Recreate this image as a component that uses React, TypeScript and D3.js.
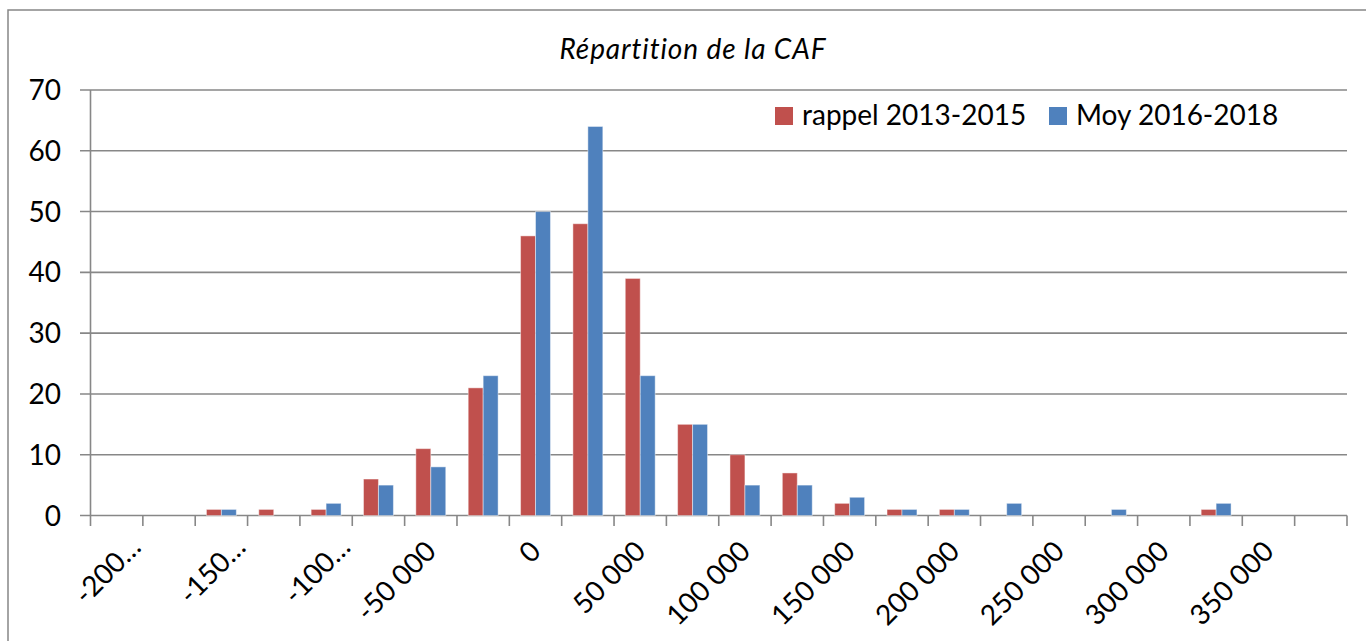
import React from "react";
import * as d3 from "d3";

const categories: number[] = [
  -200000, -175000, -150000, -125000, -100000, -75000, -50000, -25000,
  0, 25000, 50000, 75000, 100000, 125000, 150000, 175000,
  200000, 225000, 250000, 275000, 300000, 325000, 350000, 375000,
];
const rappel: number[] = [0, 0, 1, 1, 1, 6, 11, 21, 46, 48, 39, 15, 10, 7, 2, 1, 1, 0, 0, 0, 0, 1, 0, 0];
const moy: number[] = [0, 0, 1, 0, 2, 5, 8, 23, 50, 64, 23, 15, 5, 5, 3, 1, 1, 2, 0, 1, 0, 2, 0, 0];
const xTickLabels: string[] = [
  "-200…", "", "-150…", "", "-100…", "", "-50 000", "",
  "0", "", "50 000", "", "100 000", "", "150 000", "",
  "200 000", "", "250 000", "", "300 000", "", "350 000", "",
];
const yTicks: number[] = [0, 10, 20, 30, 40, 50, 60, 70];
const seriesNames: string[] = ["rappel 2013-2015", "Moy 2016-2018"];
const seriesColors: string[] = ["#C0504D", "#4F81BD"];
const title = "Répartition de la CAF";

const W = 1366;
const H = 641;
const FONT = "Lato, 'Open Sans', sans-serif";
const GRID = "#878787";

export default function App() {
  const x = d3.scaleBand<number>().domain(categories).range([90.5, 1347]).paddingInner(0).paddingOuter(0);
  const y = d3.scaleLinear().domain([0, 70]).range([515.5, 90]);
  const bw = x.bandwidth() / 3.5;
  const series = [rappel, moy];
  const ticksX = d3.range(categories.length + 1).map((i) => 90.5 + i * x.step());

  return (
    <svg width={W} height={H} style={{ position: "absolute", left: 0, top: 0, background: "#fff" }} fontFamily={FONT}>
      <rect x={8} y={10} width={W + 20} height={H + 20} fill="#fff" stroke={GRID} strokeWidth={1.5} />
      <text x={693} y={59} textAnchor="middle" fontSize={28} fontStyle="italic" letterSpacing={0.9} fill="#000">{title}</text>

      {yTicks.map((t) => (
        <g key={t}>
          <line x1={80} x2={1347} y1={y(t)} y2={y(t)} stroke={GRID} strokeWidth={1.6} />
          <text x={61} y={y(t) + 10} textAnchor="end" fontSize={28} fill="#000">{t}</text>
        </g>
      ))}
      <line x1={90.5} x2={90.5} y1={90} y2={516} stroke={GRID} strokeWidth={1.6} />
      {ticksX.map((tx, i) => (
        <line key={i} x1={tx} x2={tx} y1={515.5} y2={526} stroke={GRID} strokeWidth={1.6} />
      ))}

      {series.map((vals, s) => (
        <g key={s}>
          {categories.map((c, i) => {
            const v = vals[i];
            if (!v) return null;
            const cx = (x(c) as number) + x.bandwidth() / 2;
            const x0 = cx - bw + s * bw;
            return (
              <rect key={i} x={x0} y={y(v)} width={bw} height={y(0) - y(v)} fill={seriesColors[s]}
                stroke="#ffffff" strokeOpacity={0.45} strokeWidth={1} />
            );
          })}
        </g>
      ))}

      {categories.map((c, i) => {
        const lab = xTickLabels[i];
        if (!lab) return null;
        const cx = (x(c) as number) + x.bandwidth() / 2;
        const trunc = lab.endsWith("…");
        const ax = cx + 7 + (trunc ? 19 : 0);
        const ay = 553 + (trunc ? -4 : 0);
        return (
          <text key={i} transform={`translate(${ax},${ay}) rotate(-45)`} textAnchor="end" fontSize={28} fill="#000">{lab}</text>
        );
      })}

      {seriesNames.map((n, i) => {
        const lx = [775, 1049][i];
        return (
          <g key={n}>
            <rect x={lx} y={107} width={18} height={18} fill={seriesColors[i]} />
            <text x={lx + 27} y={125} fontSize={28} fill="#000">{n}</text>
          </g>
        );
      })}
    </svg>
  );
}
